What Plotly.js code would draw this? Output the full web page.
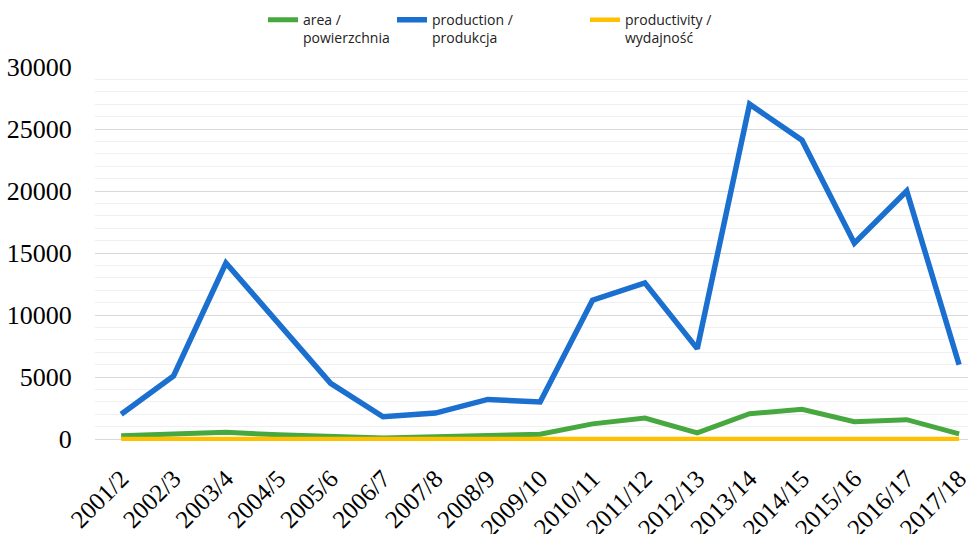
<!DOCTYPE html>
<html>
<head>
<meta charset="utf-8">
<script src="https://cdn.plot.ly/plotly-3.0.1.min.js"></script>
<style>html,body{margin:0;padding:0;background:#fff;}#chart{width:968px;height:534px;}</style>
</head>
<body>
<div id="chart"></div>
<script>
const seasons = ["2001/2","2002/3","2003/4","2004/5","2005/6","2006/7","2007/8","2008/9","2009/10","2010/11","2011/12","2012/13","2013/14","2014/15","2015/16","2016/17","2017/18"];
const area = [280, 400, 550, 350, 250, 100, 200, 300, 400, 1230, 1700, 500, 2050, 2400, 1400, 1570, 420];
const production = [2000, 5100, 14200, 9400, 4500, 1800, 2100, 3200, 3000, 11200, 12600, 7300, 27000, 24100, 15800, 20000, 6000];
const productivity = [7.1, 12.8, 25.8, 26.9, 18, 18, 10.5, 10.7, 7.5, 9.1, 7.4, 14.6, 13.2, 10, 11.3, 12.7, 14.3];
const seriesNames = ["area /<br>powierzchnia", "production /<br>produkcja", "productivity /<br>wydajność"];

const traces = [
  {x: seasons, y: area, name: seriesNames[0], type: 'scatter', mode: 'lines', line: {color: '#46a83e', width: 5}, legend: 'legend'},
  {x: seasons, y: production, name: seriesNames[1], type: 'scatter', mode: 'lines', line: {color: '#1a6fcf', width: 5.5}, legend: 'legend2'},
  {x: seasons, y: productivity, name: seriesNames[2], type: 'scatter', mode: 'lines', line: {color: '#ffc000', width: 4.5}, legend: 'legend3'}
];

const legFont = {family: 'Open Sans, sans-serif', size: 14, color: '#222'};
function leg(xp) {
  return {x: xp, y: 1.168, xanchor: 'left', yanchor: 'top', orientation: 'h', valign: 'top', font: legFont, bgcolor: 'rgba(0,0,0,0)', tracegroupgap: 0};
}

const layout = {
  width: 968, height: 534,
  margin: {l: 95, r: 0, t: 67, b: 92.6},
  paper_bgcolor: '#fff', plot_bgcolor: '#fff',
  showlegend: true,
  legend: leg((263 - 95) / 873),
  legend2: leg((392 - 95) / 873),
  legend3: leg((585 - 95) / 873),
  xaxis: {
    type: 'category', range: [-0.5, 16.17], tickangle: -45,
    showgrid: false, zeroline: false, showline: false,
    ticks: 'outside', ticklen: 12, tickcolor: 'rgba(0,0,0,0)',
    tickfont: {family: 'Liberation Serif, serif', size: 25, color: '#000'},
    automargin: false
  },
  yaxis: {
    range: [-150, 30000], tickvals: [0, 5000, 10000, 15000, 20000, 25000, 30000], tickformat: 'd',
    showgrid: true, gridcolor: '#d9d9d9', gridwidth: 1,
    zeroline: false, showline: false,
    ticks: 'outside', ticklen: 17, tickcolor: 'rgba(0,0,0,0)',
    tickfont: {family: 'Liberation Serif, serif', size: 26, color: '#000'},
    minor: {tick0: 0, dtick: 1000, showgrid: true, gridcolor: '#f0f0f0', gridwidth: 1},
    automargin: false
  }
};

Plotly.newPlot('chart', traces, layout, {displayModeBar: false, staticPlot: true});
</script>
</body>
</html>
